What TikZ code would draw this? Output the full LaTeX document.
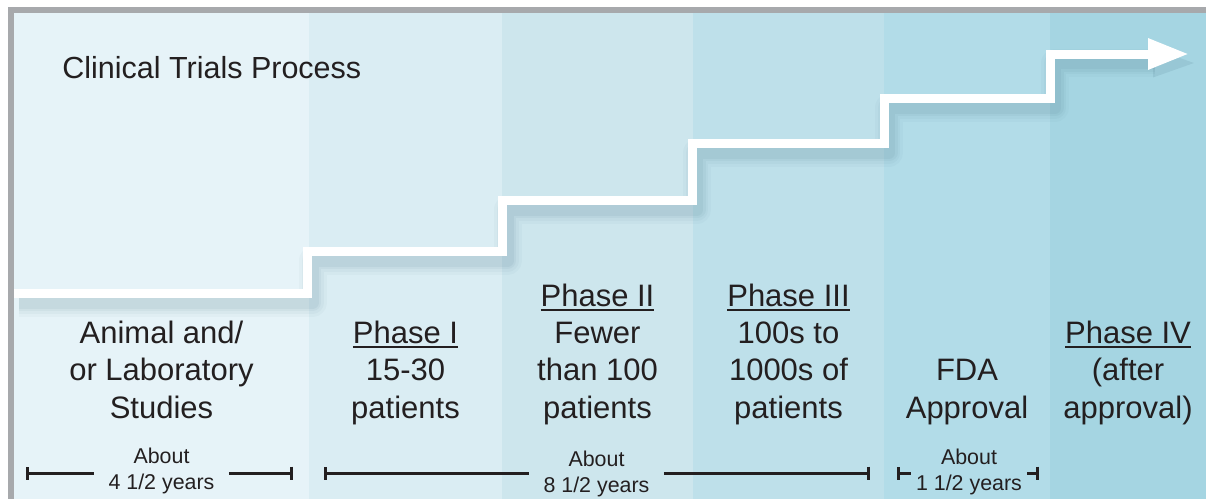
\documentclass[tikz,border=0pt]{standalone}
\usepackage{fontspec}
\setmainfont{Liberation Sans}
\usetikzlibrary{arrows.meta}

\definecolor{frame}{RGB}{167,169,172}
\definecolor{ink}{RGB}{35,31,32}
\definecolor{colA}{RGB}{230,243,248}
\definecolor{colB}{RGB}{218,237,243}
\definecolor{colC}{RGB}{205,230,237}
\definecolor{colD}{RGB}{190,224,234}
\definecolor{colE}{RGB}{178,220,232}
\definecolor{colF}{RGB}{165,213,226}
\definecolor{dropc}{RGB}{60,105,125}

% underlined phase heading
\newcommand{\phasehead}[1]{\leavevmode\vtop{\hbox{#1}\kern1.3pt\hrule height0.8pt}}

\begin{document}
\begin{tikzpicture}[x=0.5pt, y=-0.5pt,
    stage/.style={align=center, anchor=base, inner sep=0pt, text=ink,
      font=\fontsize{15.5}{18.65}\selectfont},
    dur/.style={align=center, anchor=base, inner ysep=0pt, inner xsep=7pt, text=ink,
      font=\fontsize{10.7}{12.6}\selectfont},
    span/.style={draw=ink, line width=1.5pt},
    stair/.style={draw=white, line width=4.5pt, line join=miter,
      -{Triangle[length=20.5pt, width=14.5pt]}}
  ]
  \useasboundingbox (0,0) rectangle (1206,499);

  % background bands
  \foreach \xa/\xb/\c in {14/309/colA, 309/502/colB, 502/693/colC,
                          693/884/colD, 884/1050/colE, 1050/1206/colF}
    \fill[\c] (\xa,13) rectangle (\xb,499);
  \fill[frame] (8,7) rectangle (1206,13);
  \fill[frame] (8,7) rectangle (14,499);

  % staircase, shadow first
  \foreach \w/\o in {14/0.035, 11/0.045, 8.5/0.055, 6/0.065}
    \draw[draw=dropc, opacity=\o, line width=\w pt, line join=round, shift={(5,9)}]
      (14,293.5) -- (307.5,293.5) -- (307.5,251.5) -- (502.5,251.5)
      -- (502.5,200.5) -- (692,200.5) -- (692,143.5) -- (884,143.5)
      -- (884,98.5) -- (1050,98.5) -- (1050,54) -- (1150,54);
  \fill[dropc, opacity=0.12, shift={(5,9)}] (1148,39.5) -- (1189,54) -- (1148,68.5) -- cycle;
  \draw[stair]
      (14,293.5) -- (307.5,293.5) -- (307.5,251.5) -- (502.5,251.5)
      -- (502.5,200.5) -- (692,200.5) -- (692,143.5) -- (884,143.5)
      -- (884,98.5) -- (1050,98.5) -- (1050,54) -- (1189,54);

  \node[anchor=base west, inner sep=0pt, text=ink, font=\fontsize{15.25}{18}\selectfont]
    (title) at (62,78) {Clinical Trials Process};

  % stages
  \node[stage] (animal) at (161.5,418) {Animal and/\\or Laboratory\\Studies};
  \node[stage] (ph1) at (405.5,418) {\phasehead{Phase I}\\15-30\\patients};
  \node[stage] (ph2) at (597.5,418) {\phasehead{Phase II}\\Fewer\\than 100\\patients};
  \node[stage] (ph3) at (788.5,418) {\phasehead{Phase III}\\100s to\\1000s of\\patients};
  \node[stage] (fda) at (967,418) {FDA\\Approval};
  \node[stage] (ph4) at (1128,418) {\phasehead{Phase IV}\\(after\\approval)};

  % durations
  \node[dur] (d1) at (161.5,489) {About\\4 1/2 years};
  \node[dur] (d2) at (596.5,492) {About\\8 1/2 years};
  \node[dur, inner xsep=2.5pt] (d3) at (969,490) {About\\1 1/2 years};
  \coordinate (d1l) at (26,473);
  \coordinate (d1r) at (293,473);
  \coordinate (d2l) at (324,473);
  \coordinate (d2r) at (870,473);
  \coordinate (d3l) at (897,473);
  \coordinate (d3r) at (1039,473);
  \draw[span, {Bar[width=6.5pt]}-] (d1l) -- (d1l -| d1.west);
  \draw[span, -{Bar[width=6.5pt]}] (d1.east |- d1r) -- (d1r);
  \draw[span, {Bar[width=6.5pt]}-] (d2l) -- (d2l -| d2.west);
  \draw[span, -{Bar[width=6.5pt]}] (d2.east |- d2r) -- (d2r);
  \draw[span, {Bar[width=6.5pt]}-] (d3l) -- (d3l -| d3.west);
  \draw[span, -{Bar[width=6.5pt]}] (d3.east |- d3r) -- (d3r);
\end{tikzpicture}
\end{document}
